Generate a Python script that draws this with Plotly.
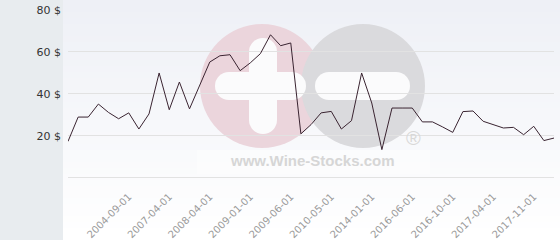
import plotly.graph_objects as go

# ---- data ----
prices = [17.4, 29.0, 29.0, 35.2, 31.2, 28.2, 31.0, 23.3, 30.5, 50.0,
          32.5, 45.7, 32.9, 44.0, 55.2, 58.2, 58.7, 51.1, 54.8, 59.2,
          68.2, 63.0, 64.3, 21.0, 25.4, 31.0, 31.7, 23.3, 27.3, 50.0,
          35.7, 13.5, 33.3, 33.3, 33.3, 26.7, 26.7, 24.3, 21.7, 31.6,
          31.9, 27.0, 25.4, 23.8, 24.1, 20.6, 24.6, 17.8, 19.0]
date_labels = ["2004-09-01", "2007-04-01", "2008-04-01", "2009-01-01",
               "2009-06-01", "2010-05-01", "2014-01-01", "2016-06-01",
               "2016-10-01", "2017-04-01", "2017-11-01"]
y_ticks = [0, 20, 40, 60, 80]
y_tick_text = ["", "20 $", "40 $", "60 $", "80 $"]

# ---- layout geometry ----
W, H = 560, 240
ML, MR, MT, MB = 68, 6, 10, 61
PW, PH = W - ML - MR, H - MT - MB

x_idx = list(range(len(prices)))
label_idx = list(range(6, len(prices), 4))[:len(date_labels)]


def px(x):
    return (x - ML) / PW


def py(y):
    return 1 - (y - MT) / PH


shapes = []
# vertical gradient background
top = (238, 240, 246)
bot = (255, 255, 255)
n = 40
for i in range(n):
    t = i / (n - 1)
    c = tuple(round(top[k] + (bot[k] - top[k]) * t) for k in range(3))
    y0 = H * i / n
    y1 = H * (i + 1) / n + 0.5
    shapes.append(dict(type="rect", xref="paper", yref="paper",
                       x0=px(0), x1=px(W), y0=py(y1), y1=py(y0),
                       fillcolor="rgb(%d,%d,%d)" % c, line_width=0, layer="below"))
# left panel
shapes.append(dict(type="rect", xref="paper", yref="paper",
                   x0=px(0), x1=px(63), y0=py(H), y1=py(0),
                   fillcolor="#e8ecef", line_width=0, layer="below"))


def circle(cx, cy, r, color, opacity=1.0):
    return dict(type="circle", xref="paper", yref="paper",
                x0=px(cx - r), x1=px(cx + r), y0=py(cy + r), y1=py(cy - r),
                fillcolor=color, line_width=0, layer="below", opacity=opacity)


def rect(x0, y0, x1, y1, color, opacity=1.0):
    return dict(type="rect", xref="paper", yref="paper",
                x0=px(x0), x1=px(x1), y0=py(y1), y1=py(y0),
                fillcolor=color, line_width=0, layer="below", opacity=opacity)


def pill(x0, y0, x1, y1, color):
    r = (y1 - y0) / 2
    if (x1 - x0) >= (y1 - y0):
        return [rect(x0 + r, y0, x1 - r, y1, color),
                circle(x0 + r, y0 + r, r, color),
                circle(x1 - r, y0 + r, r, color)]
    r = (x1 - x0) / 2
    return [rect(x0, y0 + r, x1, y1 - r, color),
            circle(x0 + r, y0 + r, r, color),
            circle(x0 + r, y1 - r, r, color)]


# watermark
shapes.append(rect(197, 150, 430, 174, "#ffffff", 0.35))
shapes.append(circle(262, 86, 62, "#ebd5dc"))
shapes.append(circle(363, 86, 62, "#dadadd"))
shapes += pill(249, 38, 277, 134, "#fbfbfc")
shapes += pill(215, 72, 306, 100, "#fbfbfc")
shapes += pill(315, 72, 410, 100, "#fbfbfc")

fig = go.Figure()
fig.add_trace(go.Scatter(x=x_idx, y=prices, mode="lines",
                         line=dict(color="#3a2431", width=1),
                         cliponaxis=False, hoverinfo="skip"))

fig.update_layout(
    width=W, height=H,
    margin=dict(l=ML, r=MR, t=MT, b=MB, pad=0, autoexpand=False),
    paper_bgcolor="white", plot_bgcolor="rgba(0,0,0,0)",
    showlegend=False,
    shapes=shapes,
    font=dict(family="DejaVu Sans"),
    annotations=[
        dict(text="<b>www.Wine-Stocks.com</b>", xref="paper", yref="paper",
             x=px(312.5), y=py(160), showarrow=False,
             font=dict(family="Liberation Sans", size=15, color="#d6d6d6"),
             xanchor="center", yanchor="middle"),
        dict(text="®", xref="paper", yref="paper",
             x=px(413), y=py(138), showarrow=False,
             font=dict(family="Liberation Sans", size=20, color="#d8d8d8"),
             xanchor="center", yanchor="middle"),
    ],
)
fig.update_xaxes(range=[0, len(prices) - 1], tickvals=label_idx, ticktext=date_labels,
                 tickangle=-45, showgrid=False, zeroline=False, showline=False,
                 ticks="", ticklabelstandoff=9, automargin=False,
                 tickfont=dict(family="DejaVu Sans", size=10, color="#9a9a9a"))
fig.update_yaxes(range=[-0.5, 80], tickvals=y_ticks, ticktext=y_tick_text,
                 showgrid=True, gridcolor="#e2e2e2", gridwidth=1, zeroline=False,
                 showline=False, ticks="", ticklabelstandoff=6, automargin=False,
                 tickfont=dict(family="DejaVu Sans", size=11, color="#333333"))

fig.write_html("out.html")
